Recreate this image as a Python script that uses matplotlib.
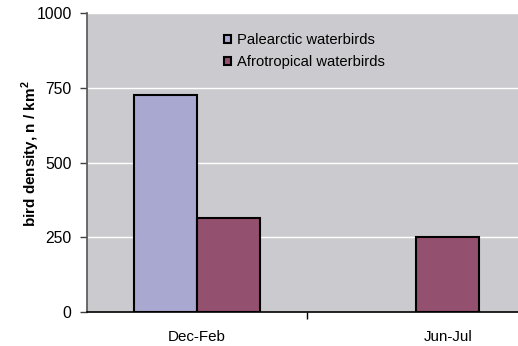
import matplotlib
matplotlib.use("Agg")
import matplotlib.pyplot as plt
import numpy as np
from matplotlib.patches import Rectangle

categories = ["Dec-Feb", "Jun-Jul"]
palearctic = [725, 0]
afrotropical = [315, 250]
series_names = ["Palearctic waterbirds", "Afrotropical waterbirds"]
yticks = [0, 250, 500, 750, 1000]

plt.rcParams['font.family'] = ['Liberation Sans', 'DejaVu Sans']
plt.rcParams['mathtext.fontset'] = 'custom'
plt.rcParams['mathtext.rm'] = 'Liberation Sans'
plt.rcParams['mathtext.bf'] = 'Liberation Sans:bold'

fig = plt.figure(figsize=(5.18, 3.46), dpi=100)
W, H = 518, 346
left, right, top, bottom = 87, 526, 13.3, 312
ax = fig.add_axes([left / W, 1 - bottom / H, (right - left) / W, (bottom - top) / H])
ax.set_facecolor("#CBCBCF")

x = np.arange(len(categories))
bw = 0.2875
c_pal = "#A9A8D0"
c_afr = "#93506F"
for vals, off, col in [(palearctic, -bw / 2, c_pal), (afrotropical, bw / 2, c_afr)]:
    lws = [1.5 if v > 0 else 0 for v in vals]
    ax.bar(x + off, vals, bw, color=col, edgecolor="black", linewidth=lws, zorder=3)

ax.set_xlim(-0.5, 1.5)
ax.set_ylim(0, 1000)
ax.set_yticks(yticks)
ax.set_yticklabels([str(v) for v in yticks], fontsize=11.3)
ax.yaxis.grid(True, color="white", linewidth=1.0, zorder=1)
ax.set_axisbelow(True)

ax.set_xticks([0.5])
ax.set_xticklabels([""])
ax.tick_params(axis='x', length=5, width=1, color="black", direction="out")
ax.tick_params(axis='y', length=5, width=1, color="#404040", direction="out", pad=6)
for i, c in enumerate(categories):
    ax.text(x[i] + (bw / 2 if i == 1 else 0), -0.085, c, transform=ax.get_xaxis_transform(),
            ha="center", va="center", fontsize=10.9)

for s in ["top", "right"]:
    ax.spines[s].set_visible(False)
ax.spines["left"].set_color("#555555")
ax.spines["bottom"].set_color("black")
ax.spines["left"].set_linewidth(1.2)
ax.spines["bottom"].set_linewidth(1.2)

ax.set_ylabel("bird density, n / km$^\\mathbf{2}$", fontsize=11, fontweight="bold")
ax.yaxis.set_label_coords((42 - left) / (right - left), (bottom - 154) / (bottom - top))

handles = [Rectangle((0, 0), 1, 1, facecolor=c_pal, edgecolor="black", linewidth=1.5),
           Rectangle((0, 0), 1, 1, facecolor=c_afr, edgecolor="black", linewidth=1.5)]
leg = ax.legend(handles, series_names, loc="upper left",
                bbox_to_anchor=((224 - left) / (right - left), 1 - (33 - top) / (bottom - top)),
                frameon=False, fontsize=10.6, handlelength=0.5, handleheight=0.5,
                handletextpad=0.4, labelspacing=0.55, borderpad=0, borderaxespad=0)

fig.savefig("out.png", dpi=100)
